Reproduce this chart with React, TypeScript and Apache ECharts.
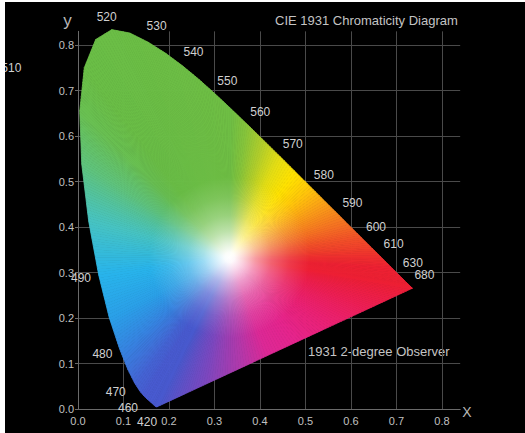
import React, { useEffect, useRef } from "react";
import * as echarts from "echarts";

// CIE 1931 2-degree spectral locus (wavelength in nm, chromaticity x, y)
const wavelengths = [
  380, 385, 390, 395, 400, 405, 410, 415, 420, 425, 430, 435, 440, 445, 450, 455,
  460, 465, 470, 475, 480, 485, 490, 495, 500, 505, 510, 515, 520, 525, 530, 535,
  540, 545, 550, 555, 560, 565, 570, 575, 580, 585, 590, 595, 600, 605, 610, 615,
  620, 625, 630, 635, 640, 645, 650, 655, 660, 665, 670, 675, 680, 685, 690, 695, 700,
];
const locusX = [
  0.1741, 0.174, 0.1738, 0.1736, 0.1733, 0.173, 0.1726, 0.1721, 0.1714, 0.1703, 0.1689,
  0.1669, 0.1644, 0.1611, 0.1566, 0.151, 0.144, 0.1355, 0.1241, 0.1096, 0.0913, 0.0687,
  0.0454, 0.0235, 0.0082, 0.0039, 0.0139, 0.0389, 0.0743, 0.1142, 0.1547, 0.1929, 0.2296,
  0.2658, 0.3016, 0.3373, 0.3731, 0.4087, 0.4441, 0.4788, 0.5125, 0.5448, 0.5752, 0.6029,
  0.627, 0.6482, 0.6658, 0.6801, 0.6915, 0.7006, 0.7079, 0.714, 0.719, 0.723, 0.726,
  0.7283, 0.73, 0.7311, 0.732, 0.7327, 0.7334, 0.734, 0.7344, 0.7346, 0.7347,
];
const locusY = [
  0.005, 0.005, 0.0049, 0.0049, 0.0048, 0.0048, 0.0048, 0.0048, 0.0051, 0.0058, 0.0069,
  0.0086, 0.0109, 0.0138, 0.0177, 0.0227, 0.0297, 0.0399, 0.0578, 0.0868, 0.1327, 0.2007,
  0.295, 0.4127, 0.5384, 0.6548, 0.7502, 0.812, 0.8338, 0.8262, 0.8059, 0.7816, 0.7543,
  0.7243, 0.6923, 0.6589, 0.6245, 0.5896, 0.5547, 0.5202, 0.4866, 0.4544, 0.4242, 0.3965,
  0.3725, 0.3514, 0.334, 0.3197, 0.3083, 0.2993, 0.292, 0.2859, 0.2809, 0.277, 0.274,
  0.2717, 0.27, 0.2689, 0.268, 0.2673, 0.2666, 0.266, 0.2656, 0.2654, 0.2653,
];
const labelledWavelengths = [
  420, 460, 470, 480, 490, 510, 520, 530, 540, 550, 560, 570, 580, 590, 600, 610, 630, 680,
];
const whitePoint = [0.3333, 0.3333];

// ---- styles ----
type RGB = [number, number, number];
const spectralColors: [number, RGB][] = [
  [380, [72, 88, 205]],
  [460, [72, 90, 208]],
  [470, [68, 100, 212]],
  [475, [62, 115, 218]],
  [480, [52, 135, 226]],
  [485, [42, 160, 232]],
  [490, [40, 180, 235]],
  [495, [70, 195, 195]],
  [500, [95, 195, 125]],
  [505, [105, 192, 82]],
  [510, [106, 190, 70]],
  [555, [110, 190, 68]],
  [560, [135, 196, 58]],
  [565, [178, 206, 42]],
  [570, [228, 222, 20]],
  [575, [255, 226, 0]],
  [580, [255, 198, 10]],
  [585, [250, 160, 22]],
  [590, [246, 128, 30]],
  [595, [243, 100, 36]],
  [600, [241, 76, 40]],
  [610, [238, 46, 46]],
  [620, [237, 32, 50]],
  [700, [237, 30, 52]],
];
// along the line of purples: 0 = red end, 1 = blue end
const purpleColors: [number, RGB][] = [
  [0, [237, 30, 52]],
  [0.15, [237, 30, 80]],
  [0.3, [235, 32, 112]],
  [0.45, [230, 36, 140]],
  [0.57, [220, 40, 150]],
  [0.67, [178, 56, 170]],
  [0.82, [122, 72, 192]],
  [1, [72, 88, 205]],
];
// white fade profile: [pixels from the white point, amount of white]
const fadeProfile: [number, number][] = [
  [0, 1],
  [5, 0.97],
  [14, 0.8],
  [26, 0.55],
  [42, 0.3],
  [60, 0.12],
  [80, 0],
];
const SUB_PX = 3; // sub-segment length for smooth hue change
const labelDistance: Record<number, number> = { 520: 14, 460: 20, 470: 21 };
const labelOffsetOverride: Record<number, [number, number]> = { 510: [-73, 0] };
const FONT = '"Liberation Sans", Arial, sans-serif';

function interp(stops: [number, RGB][], v: number): RGB {
  if (v <= stops[0][0]) return stops[0][1];
  for (let i = 1; i < stops.length; i++) {
    if (v <= stops[i][0]) {
      const [a, ca] = stops[i - 1];
      const [b, cb] = stops[i];
      const t = (v - a) / (b - a);
      return [0, 1, 2].map((k) => ca[k] + (cb[k] - ca[k]) * t) as RGB;
    }
  }
  return stops[stops.length - 1][1];
}
const rgb = (c: RGB) => `rgb(${Math.round(c[0])},${Math.round(c[1])},${Math.round(c[2])})`;
const mixWhite = (c: RGB, a: number): RGB => [0, 1, 2].map((k) => c[k] + (255 - c[k]) * a) as RGB;

function fanTriangle(C: number[], P1: number[], P2: number[], col: RGB) {
  const M = [(P1[0] + P2[0]) / 2, (P1[1] + P2[1]) / 2];
  const L = Math.max(Math.hypot(M[0] - C[0], M[1] - C[1]), 1);
  const stops: { offset: number; color: string }[] = [];
  let last = -1;
  for (const [d, a] of fadeProfile) {
    const off = Math.min(d / L, 1);
    if (off <= last) continue;
    stops.push({ offset: off, color: rgb(mixWhite(col, a)) });
    last = off;
    if (off >= 1) break;
  }
  if (last < 1) stops.push({ offset: 1, color: rgb(col) });
  const grad = new echarts.graphic.LinearGradient(C[0], C[1], M[0], M[1], stops, true);
  return {
    type: "polygon",
    shape: { points: [C, P1, P2] },
    style: { fill: grad, stroke: grad, lineWidth: 0.8 },
  };
}

function fanSegment(C: number[], A: number[], B: number[], colorAt: (t: number) => RGB) {
  const len = Math.hypot(B[0] - A[0], B[1] - A[1]);
  const S = Math.max(1, Math.ceil(len / SUB_PX));
  const out: any[] = [];
  for (let k = 0; k < S; k++) {
    const t0 = k / S;
    const t1 = (k + 1) / S;
    const P1 = [A[0] + (B[0] - A[0]) * t0, A[1] + (B[1] - A[1]) * t0];
    const P2 = [A[0] + (B[0] - A[0]) * t1, A[1] + (B[1] - A[1]) * t1];
    out.push(fanTriangle(C, P1, P2, colorAt((t0 + t1) / 2)));
  }
  return out;
}

export default function App() {
  const ref = useRef<HTMLDivElement>(null);

  useEffect(() => {
    if (!ref.current) return;
    const chart = echarts.init(ref.current, null, { renderer: "svg" });
    const n = wavelengths.length;

    const axisCommon = {
      type: "value",
      min: 0,
      interval: 0.1,
      axisLine: { show: true, onZero: false, lineStyle: { color: "#6a6a6a", width: 1 } },
      splitLine: { show: true, showMaxLine: false, lineStyle: { color: "#4a4a4a", width: 1 } },
    };
    const tickFmt = (v: number) => (Math.abs(v * 10 - Math.round(v * 10)) < 1e-6 ? v.toFixed(1) : "");

    chart.setOption({
      animation: false,
      backgroundColor: "#000",
      grid: { left: 73, top: 29.35, width: 382.2, height: 377.65 },
      xAxis: {
        ...axisCommon,
        max: 0.84,
        axisTick: { show: false },
        axisLabel: { color: "#c0c0c0", fontSize: 11, fontFamily: FONT, margin: 6, showMaxLabel: false, formatter: tickFmt },
      },
      yAxis: {
        ...axisCommon,
        max: 0.83,
        axisTick: { show: true, length: 3, lineStyle: { color: "#6a6a6a" } },
        axisLabel: { color: "#c0c0c0", fontSize: 11, fontFamily: FONT, margin: 4, showMaxLabel: false, formatter: tickFmt },
      },
      graphic: [
        {
          type: "text",
          x: 270,
          y: 18.5,
          silent: true,
          style: { text: "CIE 1931 Chromaticity Diagram", fill: "#c4c4c4", font: `13px ${FONT}`, align: "left", verticalAlign: "middle" },
        },
        {
          type: "text",
          x: 303,
          y: 349,
          silent: true,
          style: { text: "1931 2-degree Observer", fill: "#c4c4c4", font: `13px ${FONT}`, align: "left", verticalAlign: "middle" },
        },
        {
          type: "text",
          x: 62.5,
          y: 18.5,
          silent: true,
          style: { text: "y", fill: "#b8b8b8", font: `17px ${FONT}`, align: "center", verticalAlign: "middle" },
        },
        {
          type: "text",
          x: 462,
          y: 410,
          silent: true,
          style: { text: "X", fill: "#b8b8b8", font: `14px ${FONT}`, align: "center", verticalAlign: "middle" },
        },
      ],
      series: [
        {
          type: "custom",
          coordinateSystem: "cartesian2d",
          silent: true,
          data: wavelengths.map((w, i) => [locusX[i], locusY[i], w]),
          renderItem: (params: any, api: any) => {
            const i = params.dataIndex;
            const C = api.coord(whitePoint);
            if (i < n - 1) {
              const A = api.coord([locusX[i], locusY[i]]);
              const B = api.coord([locusX[i + 1], locusY[i + 1]]);
              const w0 = wavelengths[i];
              const w1 = wavelengths[i + 1];
              return { type: "group", children: fanSegment(C, A, B, (t) => interp(spectralColors, w0 + (w1 - w0) * t)) };
            }
            // line of purples: from the red end back to the blue end
            const R = api.coord([locusX[n - 1], locusY[n - 1]]);
            const Bl = api.coord([locusX[0], locusY[0]]);
            return { type: "group", children: fanSegment(C, R, Bl, (t) => interp(purpleColors, t)) };
          },
        },
        {
          type: "custom",
          coordinateSystem: "cartesian2d",
          silent: true,
          data: labelledWavelengths.map((w) => {
            const i = wavelengths.indexOf(w);
            return [locusX[i], locusY[i], w];
          }),
          renderItem: (params: any, api: any) => {
            const w = labelledWavelengths[params.dataIndex];
            const i = wavelengths.indexOf(w);
            const p = api.coord([locusX[i], locusY[i]]);
            let dx: number;
            let dy: number;
            if (labelOffsetOverride[w]) {
              [dx, dy] = labelOffsetOverride[w];
            } else {
              const a = api.coord([locusX[Math.max(i - 2, 0)], locusY[Math.max(i - 2, 0)]]);
              const b = api.coord([locusX[Math.min(i + 2, n - 1)], locusY[Math.min(i + 2, n - 1)]]);
              const tx = b[0] - a[0];
              const ty = b[1] - a[1];
              const L = Math.hypot(tx, ty) || 1;
              let nx = ty / L;
              let ny = -tx / L;
              const c = api.coord(whitePoint);
              if (nx * (p[0] - c[0]) + ny * (p[1] - c[1]) < 0) {
                nx = -nx;
                ny = -ny;
              }
              const d = labelDistance[w] ?? 18;
              dx = nx * d;
              dy = ny * d;
            }
            return {
              type: "text",
              x: p[0] + dx,
              y: p[1] + dy,
              style: { text: String(w), fill: "#d0d0d0", font: `12px ${FONT}`, align: "center", verticalAlign: "middle" },
            };
          },
        },
      ],
    });

    return () => chart.dispose();
  }, []);

  return (
    <div style={{ position: "fixed", left: 0, top: 0, width: 525, height: 433, background: "#fff" }}>
      <div ref={ref} style={{ position: "absolute", left: 5, top: 2, width: 520, height: 431, background: "#000" }} />
    </div>
  );
}
